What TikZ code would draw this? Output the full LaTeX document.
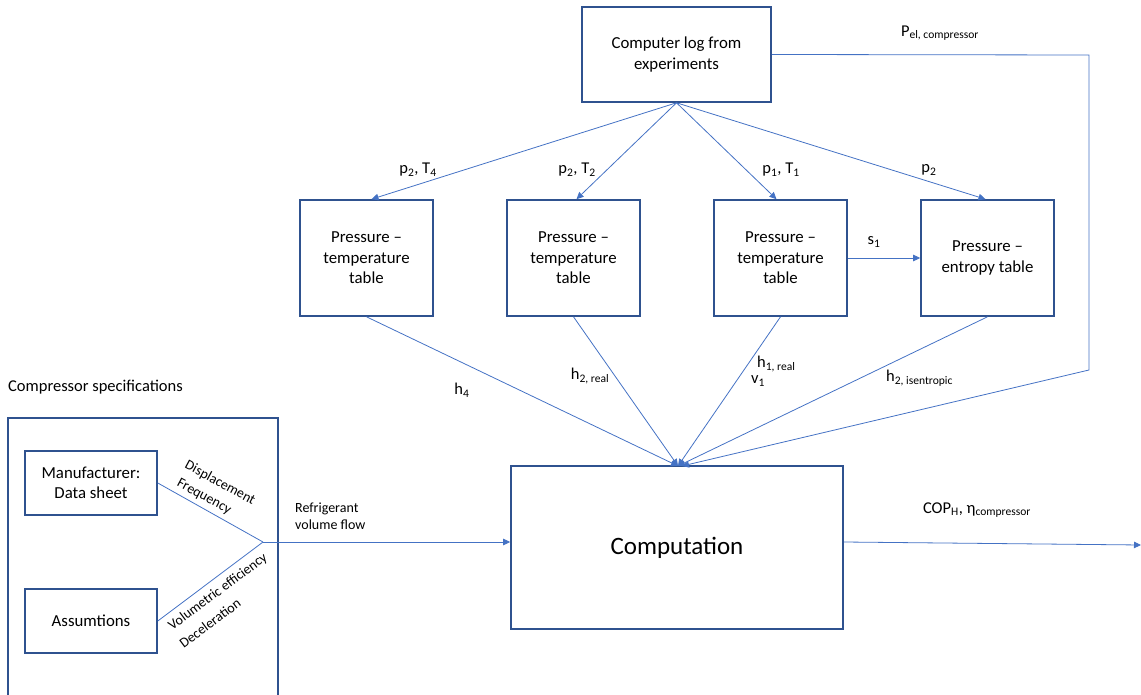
\documentclass[tikz,border=0pt]{standalone}
\usepackage{fontspec}
\setmainfont{Carlito}
\usetikzlibrary{arrows.meta,calc}
\newcommand\sbs[1]{\textsubscript{#1}}
\definecolor{boxline}{HTML}{2F528F}
\definecolor{conn}{HTML}{4472C4}
\begin{document}
\begin{tikzpicture}[x=1pt,y=-1pt,
  blockbox/.style={draw=boxline,line width=1.6pt,minimum width=#1,align=center,inner sep=0pt,
    font=\fontsize{16.8}{20.5}\selectfont},
  blockbox/.default=133pt,
  wire/.style={draw=conn,line width=0.8pt},
  feed/.style={wire,-{Triangle[length=7pt,width=6.5pt]}},
  lbl/.style={font=\fontsize{16.5}{20}\selectfont,inner sep=0pt},
  small/.style={font=\fontsize{14}{17}\selectfont,inner sep=0pt,align=left}]
\useasboundingbox (0,0) rectangle (1141,695);

% data source
\node[blockbox=189pt,minimum height=95pt] (log) at (676.5,54.5) {Computer log from\\experiments};

% property tables
\node[blockbox,minimum height=116pt] (t1) at (366.5,258) {Pressure --\\temperature\\table};
\node[blockbox,minimum height=116pt] (t2) at (573.5,258) {Pressure --\\temperature\\table};
\node[blockbox,minimum height=116pt] (t3) at (780.5,258) {Pressure --\\temperature\\table};
\node[blockbox,minimum height=116pt] (t4) at (987.5,258) {Pressure --\\entropy table};

% computation block
\node[blockbox=332pt,minimum height=163pt,font=\fontsize{25}{30}\selectfont] (comp) at (677,547.5) {Computation};
\coordinate (cin) at (678,466);

% compressor specifications
\node[lbl,anchor=west] (spec) at (8,387) {Compressor specifications};
\draw[boxline,line width=1.6pt] (8,695) -- (8,418) -- (278,418) -- (278,695);
\node[blockbox=132pt,minimum height=64pt] (man) at (91,483) {Manufacturer:\\Data sheet};
\node[blockbox=132pt,minimum height=64pt] (ass) at (91,621) {Assumtions};
\coordinate (join) at (263,542);

% connectors from the log
\draw[feed] (log.south) -- ([xshift=5pt]t1.north);
\draw[feed] (log.south) -- ([xshift=3pt]t2.north);
\draw[feed] (log.south) -- ([xshift=-4pt]t3.north);
\draw[feed] (log.south) -- ([xshift=-2pt]t4.north);
\node[lbl] (l1) at (418,170) {p\sbs{2}, T\sbs{4}};
\node[lbl] (l2) at (577,170) {p\sbs{2}, T\sbs{2}};
\node[lbl] (l3) at (781,170) {p\sbs{1}, T\sbs{1}};
\node[lbl] (l4) at (929,170) {p\sbs{2}};

\draw[feed] (t3.east) -- (t4.west);
\node[lbl] (ls) at (874,242) {s\sbs{1}};

% connectors into the computation
\draw[feed] (t1.south) -- (cin);
\draw[feed] (t2.south) -- (cin);
\draw[feed] (t3.south) -- (cin);
\draw[feed] (t4.south) -- (cin);
\coordinate (pc) at (1089,55);
\coordinate (pd) at (1089,370);
\draw[feed] (log.east) -- (pc) -- (pd) -- ([xshift=4pt]cin);
\node[lbl] (lp) at (940,33) {P\sbs{el, compressor}};
\node[lbl] (lh4) at (462,390) {h\sbs{4}};
\node[lbl] (lh2) at (590,376) {h\sbs{2, real}};
\node[lbl,anchor=west] (lh1) at (757,364) {h\sbs{1, real}};
\node[lbl,anchor=west] (lv1) at (751,381) {v\sbs{1}};
\node[lbl,anchor=west] (lh2s) at (886,378) {h\sbs{2, isentropic}};

% volume flow branch
\draw[wire] (man.east) -- (join);
\draw[wire] (ass.east) -- (join);
\draw[feed] (join) -- (comp.west |- join);
\node[small,rotate=-28.3] (ldisp) at (220,483) {Displacement};
\node[small,rotate=-28.3] (lfreq) at (204,497) {Frequency};
\node[small,rotate=36.7] (lvol) at (218,592) {Volumetric efficiency};
\node[small,rotate=36.7] (ldec) at (210,623) {Deceleration};
\node[small,anchor=west] (lflow) at (295,516) {Refrigerant\\volume flow};

% result
\coordinate (out) at (1141,545);
\draw[feed] (comp.east |- join) -- (out);
\node[lbl] (lcop) at (977,510) {COP\sbs{H}, η\sbs{compressor}};
\end{tikzpicture}
\end{document}
